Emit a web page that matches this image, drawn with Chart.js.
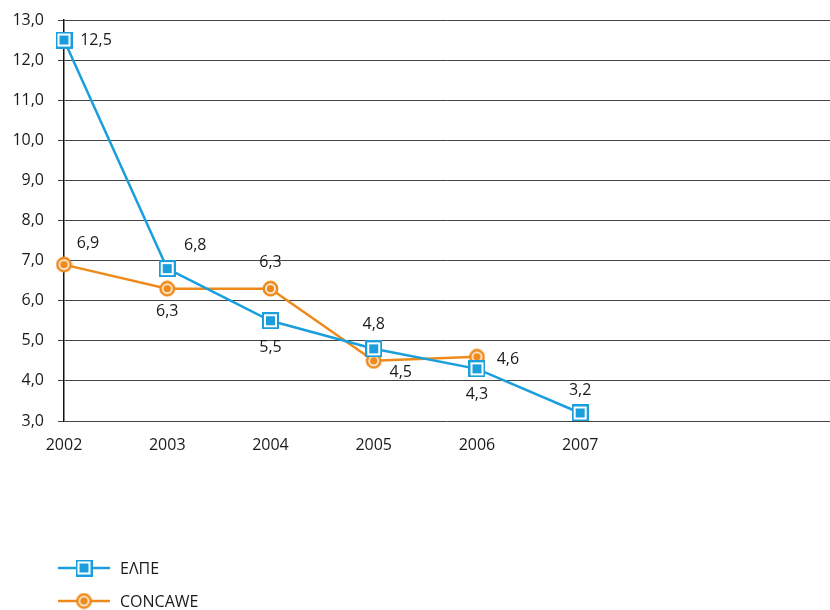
<!DOCTYPE html>
<html>
<head>
<meta charset="utf-8">
<script src="https://cdn.jsdelivr.net/npm/chart.js@4/dist/chart.umd.min.js"></script>
<style>
  html, body { margin: 0; padding: 0; background: #fff; }
  #wrap { width: 830px; height: 610px; }
</style>
</head>
<body>
<div id="wrap"><canvas id="mainChart" width="830" height="610"></canvas></div>
<script>
// data
var years = [2002, 2003, 2004, 2005, 2006, 2007];
var elpeValues = [12.5, 6.8, 5.5, 4.8, 4.3, 3.2];
var concaweValues = [6.9, 6.3, 6.3, 4.5, 4.6, null];
var seriesNames = ['ΕΛΠΕ', 'CONCAWE'];
var yTicks = [3, 4, 5, 6, 7, 8, 9, 10, 11, 12, 13];

// where each value label sits relative to its point (dx, dy)
var elpeLabelPos = [[32, 0], [28, -23], [0, 27], [0, -24], [0, 26], [0, -23]];
var concaweLabelPos = [[24, -21], [0, 23], [0, -26], [27, 12], [31, 3], [0, 0]];

var BLUE = '#1a9fdc';
var ORANGE = '#ee8a1b';
var FONT = '16px "Open Sans", sans-serif';

function fmt(v) {
    return v.toFixed(1).replace('.', ',');
}

function squareMarker() {
    var c = document.createElement('canvas');
    c.width = 17; c.height = 17;
    var g = c.getContext('2d');
    g.fillStyle = BLUE; g.fillRect(0, 0, 17, 17);
    g.fillStyle = '#fff'; g.fillRect(2, 2, 13, 13);
    g.fillStyle = BLUE; g.fillRect(4, 4, 9, 9);
    return c;
}

function circleMarker() {
    var c = document.createElement('canvas');
    c.width = 17; c.height = 17;
    var g = c.getContext('2d');
    g.fillStyle = ORANGE; g.beginPath(); g.arc(8.5, 8.5, 7.9, 0, Math.PI * 2); g.fill();
    g.fillStyle = '#fff'; g.beginPath(); g.arc(8.5, 8.5, 5.3, 0, Math.PI * 2); g.fill();
    g.fillStyle = ORANGE; g.beginPath(); g.arc(8.5, 8.5, 3.8, 0, Math.PI * 2); g.fill();
    return c;
}

var sq = squareMarker();
var ci = circleMarker();

function toPoints(vals) {
    var out = [];
    for (var i = 0; i < years.length; i++) {
        if (vals[i] !== null) out.push({ x: years[i], y: vals[i] });
    }
    return out;
}

// value labels next to the points
var valueLabels = {
    id: 'valueLabels',
    afterDatasetsDraw: function (chart) {
        var ctx = chart.ctx;
        var pos = [elpeLabelPos, concaweLabelPos];
        ctx.save();
        ctx.font = FONT;
        ctx.fillStyle = '#1a1a1a';
        ctx.textAlign = 'center';
        ctx.textBaseline = 'middle';
        chart.data.datasets.forEach(function (ds, di) {
            var meta = chart.getDatasetMeta(di);
            meta.data.forEach(function (pt, i) {
                var p = pos[di][i];
                ctx.fillText(fmt(ds.data[i].y), pt.x + p[0], pt.y + p[1]);
            });
        });
        ctx.restore();
    }
};

// legend at the bottom left, line + marker
var bottomLegend = {
    id: 'bottomLegend',
    afterDraw: function (chart) {
        var ctx = chart.ctx;
        var items = [[BLUE, sq, 568], [ORANGE, ci, 601]];
        ctx.save();
        ctx.font = FONT;
        ctx.textBaseline = 'middle';
        ctx.textAlign = 'left';
        items.forEach(function (it, i) {
            ctx.strokeStyle = it[0];
            ctx.lineWidth = 2.5;
            ctx.beginPath();
            ctx.moveTo(58, it[2]);
            ctx.lineTo(110, it[2]);
            ctx.stroke();
            ctx.drawImage(it[1], 84 - 8.5, it[2] - 8.5);
            ctx.fillStyle = '#1a1a1a';
            ctx.fillText(seriesNames[i], 120, it[2] + 1);
        });
        ctx.restore();
    }
};

var ctx = document.getElementById('mainChart').getContext('2d');
var chart = new Chart(ctx, {
    type: 'line',
    data: {
        datasets: [{
            label: seriesNames[0],
            data: toPoints(elpeValues),
            borderColor: BLUE,
            borderWidth: 2.5,
            pointStyle: sq,
            pointRadius: 9,
            clip: false
        }, {
            label: seriesNames[1],
            data: toPoints(concaweValues),
            borderColor: ORANGE,
            borderWidth: 2.5,
            pointStyle: ci,
            pointRadius: 9,
            clip: false
        }]
    },
    plugins: [valueLabels, bottomLegend],
    options: {
        responsive: false,
        animation: false,
        layout: { autoPadding: false, padding: { top: 20, right: 0, left: 0, bottom: 0 } },
        plugins: { legend: { display: false }, tooltip: { enabled: false } },
        scales: {
            x: {
                type: 'linear',
                min: 2002,
                max: 2009.42,
                grid: { display: false, drawTicks: false },
                border: { display: false },
                ticks: {
                    stepSize: 1,
                    padding: 15,
                    color: '#1a1a1a',
                    font: { family: '"Open Sans", sans-serif', size: 16 },
                    callback: function (v) { return years.indexOf(v) >= 0 ? String(v) : ''; }
                },
                afterFit: function (s) {
                    s.height = 189;
                    s.paddingLeft = 0;
                    s.paddingRight = 0;
                }
            },
            y: {
                min: yTicks[0],
                max: yTicks[yTicks.length - 1],
                grid: { color: '#444', lineWidth: 1, tickLength: 6 },
                border: { display: true, color: '#111', width: 1.5 },
                ticks: {
                    stepSize: 1,
                    padding: 14,
                    color: '#1a1a1a',
                    font: { family: '"Open Sans", sans-serif', size: 16 },
                    callback: function (v) { return fmt(v); }
                },
                afterFit: function (s) {
                    s.width = 64;
                    s.paddingTop = 0;
                    s.paddingBottom = 0;
                }
            }
        }
    }
});
</script>
</body>
</html>
